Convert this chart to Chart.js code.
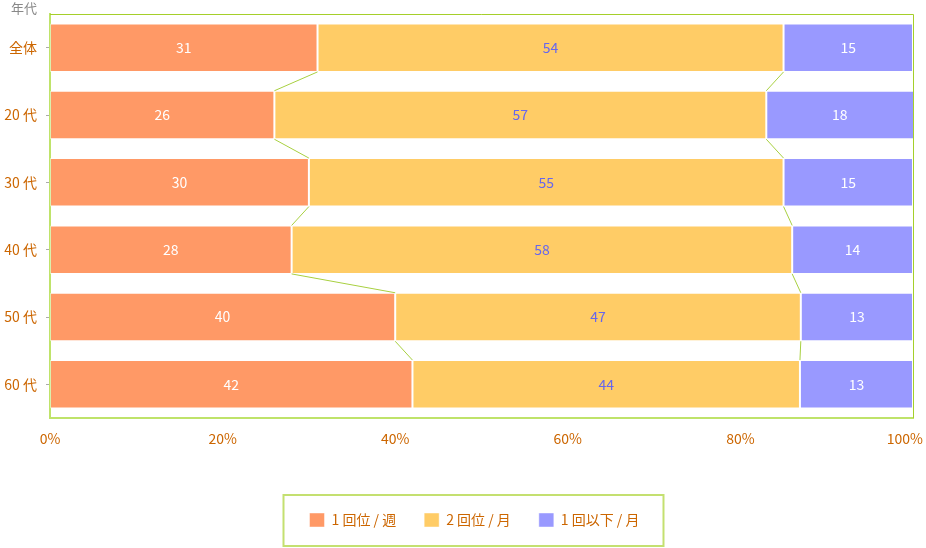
<!DOCTYPE html>
<html>
<head>
<meta charset="utf-8">
<script src="https://cdn.jsdelivr.net/npm/chart.js@4.4.0/dist/chart.umd.min.js"></script>
<style>
  html, body { margin: 0; padding: 0; background: #fff; }
</style>
</head>
<body>
<canvas id="chart" width="926" height="548"></canvas>
<script>
// data
const ageGroups = ['全体', '20 代', '30 代', '40 代', '50 代', '60 代'];
const weekly = [31, 26, 30, 28, 40, 42];
const twiceMonthly = [54, 57, 55, 58, 47, 44.9];
const monthlyOrLess = [15, 18, 15, 14, 13, 13.1];
const seriesNames = ['1 回位 / 週', '2 回位 / 月', '1 回以下 / 月'];
const xTickValues = [0, 20, 40, 60, 80, 100];

const FONT = '"Noto Sans CJK JP", "Noto Sans", sans-serif';
const TICK_COLOR = '#cc6600';

// green lines joining the segment boundaries of neighbouring bars
const connectors = {
    id: 'connectors',
    afterDatasetsDraw(chart) {
        const ctx = chart.ctx;
        ctx.save();
        ctx.strokeStyle = '#a8d040';
        ctx.lineWidth = 1;
        [0, 1].forEach(function (d) {
            const bars = chart.getDatasetMeta(d).data;
            for (let i = 0; i < bars.length - 1; i++) {
                const a = bars[i], b = bars[i + 1];
                ctx.beginPath();
                ctx.moveTo(a.x, a.y + a.height / 2);
                ctx.lineTo(b.x, b.y - b.height / 2);
                ctx.stroke();
            }
        });
        ctx.restore();
    }
};

// value labels in the middle of each visible segment
const valueLabels = {
    id: 'valueLabels',
    afterDatasetsDraw(chart) {
        const ctx = chart.ctx;
        const area = chart.chartArea;
        const colors = ['#ffffff', '#6666ee', '#ffffff'];
        ctx.save();
        ctx.font = '14px ' + FONT;
        ctx.textAlign = 'center';
        ctx.textBaseline = 'middle';
        chart.data.datasets.forEach(function (ds, d) {
            chart.getDatasetMeta(d).data.forEach(function (bar, i) {
                const x0 = Math.max(Math.min(bar.base, bar.x), area.left);
                const x1 = Math.min(Math.max(bar.base, bar.x), area.right);
                ctx.fillStyle = colors[d];
                ctx.fillText(String(Math.floor(ds.data[i])), (x0 + x1) / 2, bar.y);
            });
        });
        ctx.restore();
    }
};

// top/right frame, the "年代" caption and the box round the legend
const frame = {
    id: 'frame',
    afterLayout(chart) {
        const lg = chart.legend;
        const dx = 474.5 - (lg.left + lg.right) / 2;
        lg.left += dx;
        lg.right += dx;
        lg.legendHitBoxes.forEach(function (h) { h.left += dx; });
    },
    beforeDraw(chart) {
        // keep the last x tick label inside the canvas
        const xs = chart.scales.x;
        const items = xs.getLabelItems(chart.chartArea);
        const last = items[items.length - 1];
        const ctx = chart.ctx;
        ctx.save();
        ctx.font = last.font.string;
        const w = ctx.measureText(last.label).width;
        ctx.restore();
        last.options.translation[0] = Math.min(last.options.translation[0], chart.width - 3 - w / 2);
    },
    afterDraw(chart) {
        const ctx = chart.ctx;
        const a = chart.chartArea;
        ctx.save();
        ctx.strokeStyle = '#a5cf2a';
        ctx.lineWidth = 1;
        ctx.beginPath();
        ctx.moveTo(a.left, a.top + 0.5);
        ctx.lineTo(a.right + 0.5, a.top + 0.5);
        ctx.lineTo(a.right + 0.5, a.bottom);
        ctx.stroke();

        ctx.fillStyle = '#888888';
        ctx.font = '13px ' + FONT;
        ctx.textAlign = 'right';
        ctx.textBaseline = 'middle';
        ctx.fillText('年代', a.left - 13, a.top - 6);

        const lg = chart.legend;
        const boxes = lg.legendHitBoxes;
        const first = boxes[0], lastBox = boxes[boxes.length - 1];
        const cy = first.top + first.height / 2;
        ctx.strokeStyle = '#c4e070';
        ctx.lineWidth = 2;
        ctx.strokeRect(first.left - 26, cy - 25, (lastBox.left + lastBox.width + 24) - (first.left - 26), 51);
        ctx.restore();
    }
};

const barStyle = { borderWidth: 1, borderColor: 'rgba(255,255,255,0.45)', borderSkipped: false, clip: 0 };

new Chart(document.getElementById('chart'), {
    type: 'bar',
    data: {
        labels: ageGroups,
        datasets: [
            Object.assign({ label: seriesNames[0], data: weekly, backgroundColor: '#ff9966' }, barStyle),
            Object.assign({ label: seriesNames[1], data: twiceMonthly, backgroundColor: '#ffcc66' }, barStyle),
            Object.assign({ label: seriesNames[2], data: monthlyOrLess, backgroundColor: '#9999ff' }, barStyle)
        ]
    },
    options: {
        indexAxis: 'y',
        responsive: false,
        animation: false,
        devicePixelRatio: 1,
        layout: { padding: { left: 0, right: 13, top: 14, bottom: 11 } },
        datasets: { bar: { barPercentage: 0.72, categoryPercentage: 1 } },
        scales: {
            x: {
                stacked: true,
                min: 0,
                max: 100,
                afterBuildTicks: function (scale) {
                    scale.ticks = xTickValues.map(function (v) { return { value: v }; });
                },
                afterFit: function (scale) {
                    scale.height = 67;
                    scale.paddingRight = 0;
                    scale.paddingLeft = 0;
                },
                grid: { display: false },
                border: { color: '#bfe36a', width: 2 },
                ticks: {
                    padding: 4,
                    color: TICK_COLOR,
                    font: { family: FONT, size: 14 },
                    maxRotation: 0,
                    callback: function (v) { return v + '%'; }
                }
            },
            y: {
                stacked: true,
                afterFit: function (scale) {
                    scale.width = 50;
                    scale.paddingTop = 0;
                    scale.paddingBottom = 0;
                },
                grid: { offset: false, drawOnChartArea: false, drawTicks: true, tickLength: 4, color: '#aaaaaa' },
                border: { color: '#bfe36a', width: 2 },
                ticks: {
                    padding: 9,
                    color: TICK_COLOR,
                    font: { family: FONT, size: 14 }
                }
            }
        },
        plugins: {
            legend: {
                position: 'bottom',
                labels: {
                    boxWidth: 15,
                    boxHeight: 14,
                    padding: 28,
                    color: TICK_COLOR,
                    font: { family: FONT, size: 14 }
                }
            },
            tooltip: { enabled: false }
        }
    },
    plugins: [connectors, valueLabels, frame]
});
</script>
</body>
</html>
